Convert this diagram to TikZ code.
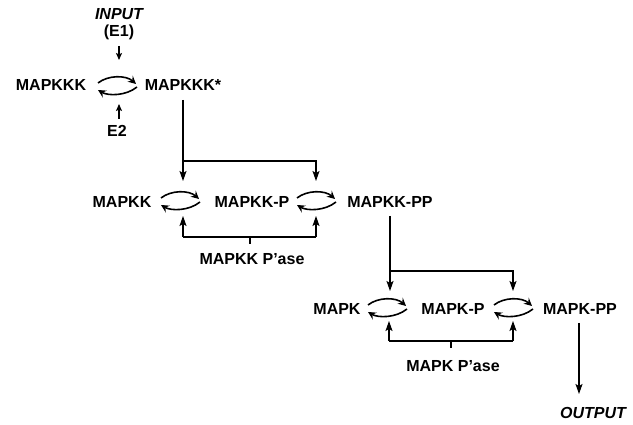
\documentclass[tikz,border=0pt]{standalone}
\usepackage{fontspec}
\setmainfont{Liberation Sans}
\usetikzlibrary{arrows.meta}
\tikzset{
  lbl/.style={inner sep=0pt, font=\fontsize{16}{18}\selectfont\bfseries},
  ilbl/.style={inner sep=0pt, font=\fontsize{16}{18}\selectfont\bfseries\itshape},
  conn/.style={line width=1.2pt, -{Stealth[length=10pt,width=7pt,inset=2pt]}},
  smallconn/.style={line width=1.2pt, -{Stealth[length=7pt,width=6pt,inset=1.5pt]}},
  plain/.style={line width=1.2pt},
  cyc/.style={line width=1.6pt, -{Stealth[length=8pt,width=8pt,inset=3pt]}}
}
\newcommand{\cyclepair}[2]{%
  \draw[cyc] (#1-19,#2-2) .. controls (#1-9,#2-10) and (#1+9,#2-10) .. (#1+19,#2-1);
  \draw[cyc] (#1+20,#2+2) .. controls (#1+9,#2+11) and (#1-9,#2+11) .. (#1-19,#2+5);
}
\begin{document}
\begin{tikzpicture}[x=1pt,y=-1pt]
\useasboundingbox (0,0) rectangle (633,425);
% texts
\node[ilbl] (input) at (119,14) {INPUT};
\node[lbl] (e1) at (119,32) {(E1)};
\node[lbl] (kkk) at (51,85) {MAPKKK};
\node[lbl] (kkks) at (183,85) {MAPKKK*};
\node[lbl] (e2) at (117,131) {E2};
\node[lbl] (kk) at (122,202) {MAPKK};
\node[lbl] (kkp) at (252,202) {MAPKK-P};
\node[lbl] (kkpp) at (390,202) {MAPKK-PP};
\node[lbl] (kkpase) at (252,259) {MAPKK P'ase};
\node[lbl] (k) at (337,309) {MAPK};
\node[lbl] (kp) at (453,309) {MAPK-P};
\node[lbl] (kpp) at (580,309) {MAPK-PP};
\node[lbl] (kpase) at (453,366) {MAPK P'ase};
\node[ilbl] (output) at (593,413) {OUTPUT};
% coordinates
\coordinate (a1s) at (119,46); \coordinate (a1e) at (119,60);
\coordinate (a2s) at (119,119); \coordinate (a2e) at (119,104);
\coordinate (b0) at (183,100); \coordinate (b1) at (183,161); \coordinate (b2) at (316,161);
\coordinate (b1e) at (183,181); \coordinate (b2e) at (316,181);
\coordinate (p1) at (183,237); \coordinate (p2) at (316,237); \coordinate (p1e) at (183,216); \coordinate (p2e) at (316,216);
\coordinate (pt) at (250,237); \coordinate (ptb) at (250,244);
\coordinate (c0) at (390,216); \coordinate (c1) at (390,271); \coordinate (c2) at (513,271);
\coordinate (c1e) at (390,291); \coordinate (c2e) at (513,291);
\coordinate (q1) at (389,341); \coordinate (q2) at (513,341); \coordinate (q1e) at (389,321); \coordinate (q2e) at (513,321);
\coordinate (qt) at (451,341); \coordinate (qtb) at (451,348);
\coordinate (o0) at (579,323); \coordinate (o1) at (579,394);
% cycles
\cyclepair{117}{85}
\cyclepair{180}{200}
\cyclepair{316}{200}
\cyclepair{387}{307}
\cyclepair{513}{307}
% connectors
\draw[smallconn] (a1s) -- (a1e);
\draw[smallconn] (a2s) -- (a2e);
\draw[plain] (b0) -- (b1);
\draw[conn] (b1) -- (b1e);
\draw[conn] (b1) -- (b2) -- (b2e);
\draw[plain] (p1) -- (p2);
\draw[conn] (p1) -- (p1e);
\draw[conn] (p2) -- (p2e);
\draw[plain] (pt) -- (ptb);
\draw[plain] (c0) -- (c1);
\draw[conn] (c1) -- (c1e);
\draw[conn] (c1) -- (c2) -- (c2e);
\draw[plain] (q1) -- (q2);
\draw[conn] (q1) -- (q1e);
\draw[conn] (q2) -- (q2e);
\draw[plain] (qt) -- (qtb);
\draw[conn] (o0) -- (o1);
\end{tikzpicture}
\end{document}
